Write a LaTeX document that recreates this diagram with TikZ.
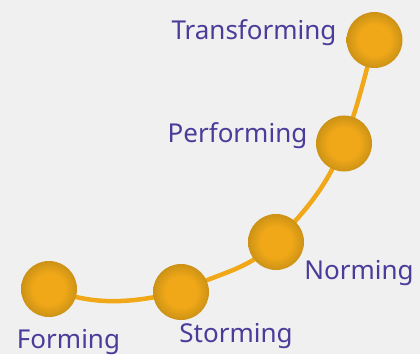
\documentclass[tikz,border=0pt]{standalone}
\usepackage{fontspec}
\setmainfont{Noto Sans}
\usetikzlibrary{backgrounds}
\definecolor{bgcol}{RGB}{240,240,240}
\definecolor{ballcol}{RGB}{240,168,24}
\definecolor{rimcol}{RGB}{204,146,22}
\definecolor{txtcol}{RGB}{74,61,154}
\pgfdeclareradialshading{ballshade}{\pgfpoint{0bp}{0bp}}{color(0bp)=(ballcol); color(14bp)=(ballcol); color(25bp)=(rimcol); color(50bp)=(rimcol)}
\tikzset{
  stage/.style={circle,minimum size=56pt,inner sep=0pt,shading=ballshade},
  stagelabel/.style={anchor=base,text=txtcol,font=\fontsize{26}{30}\selectfont},
  road/.style={draw=ballcol,line width=4.5pt}
}
\begin{document}
\begin{tikzpicture}[x=1pt,y=1pt]
			\node[stage] (forming) at (49,65) {};
			\node[stage] (storming) at (181,62) {};
			\node[stage] (norming) at (276,112) {};
			\node[stage] (performing) at (344,210.5) {};
			\node[stage] (transforming) at (374.5,314) {};
			\begin{pgfonlayer}{background}
			\fill[bgcol] (0,0) rectangle (420,354);
			\draw[road] (forming.center) to[out=-20,in=192] (storming.center)
				to[out=28,in=225] (norming.center)
				to[out=47,in=248] (performing.center)
				to[out=70,in=255] (transforming.center);
			\end{pgfonlayer}
			\node[stagelabel] (lforming) at (68.5,6) {Forming};
			\node[stagelabel] (lstorming) at (236,12) {Storming};
			\node[stagelabel] (lnorming) at (359,75) {Norming};
			\node[stagelabel] (lperforming) at (237.5,211.3) {Performing};
			\node[stagelabel] (ltransforming) at (254,314.7) {Transforming};
		\end{tikzpicture}
\end{document}
